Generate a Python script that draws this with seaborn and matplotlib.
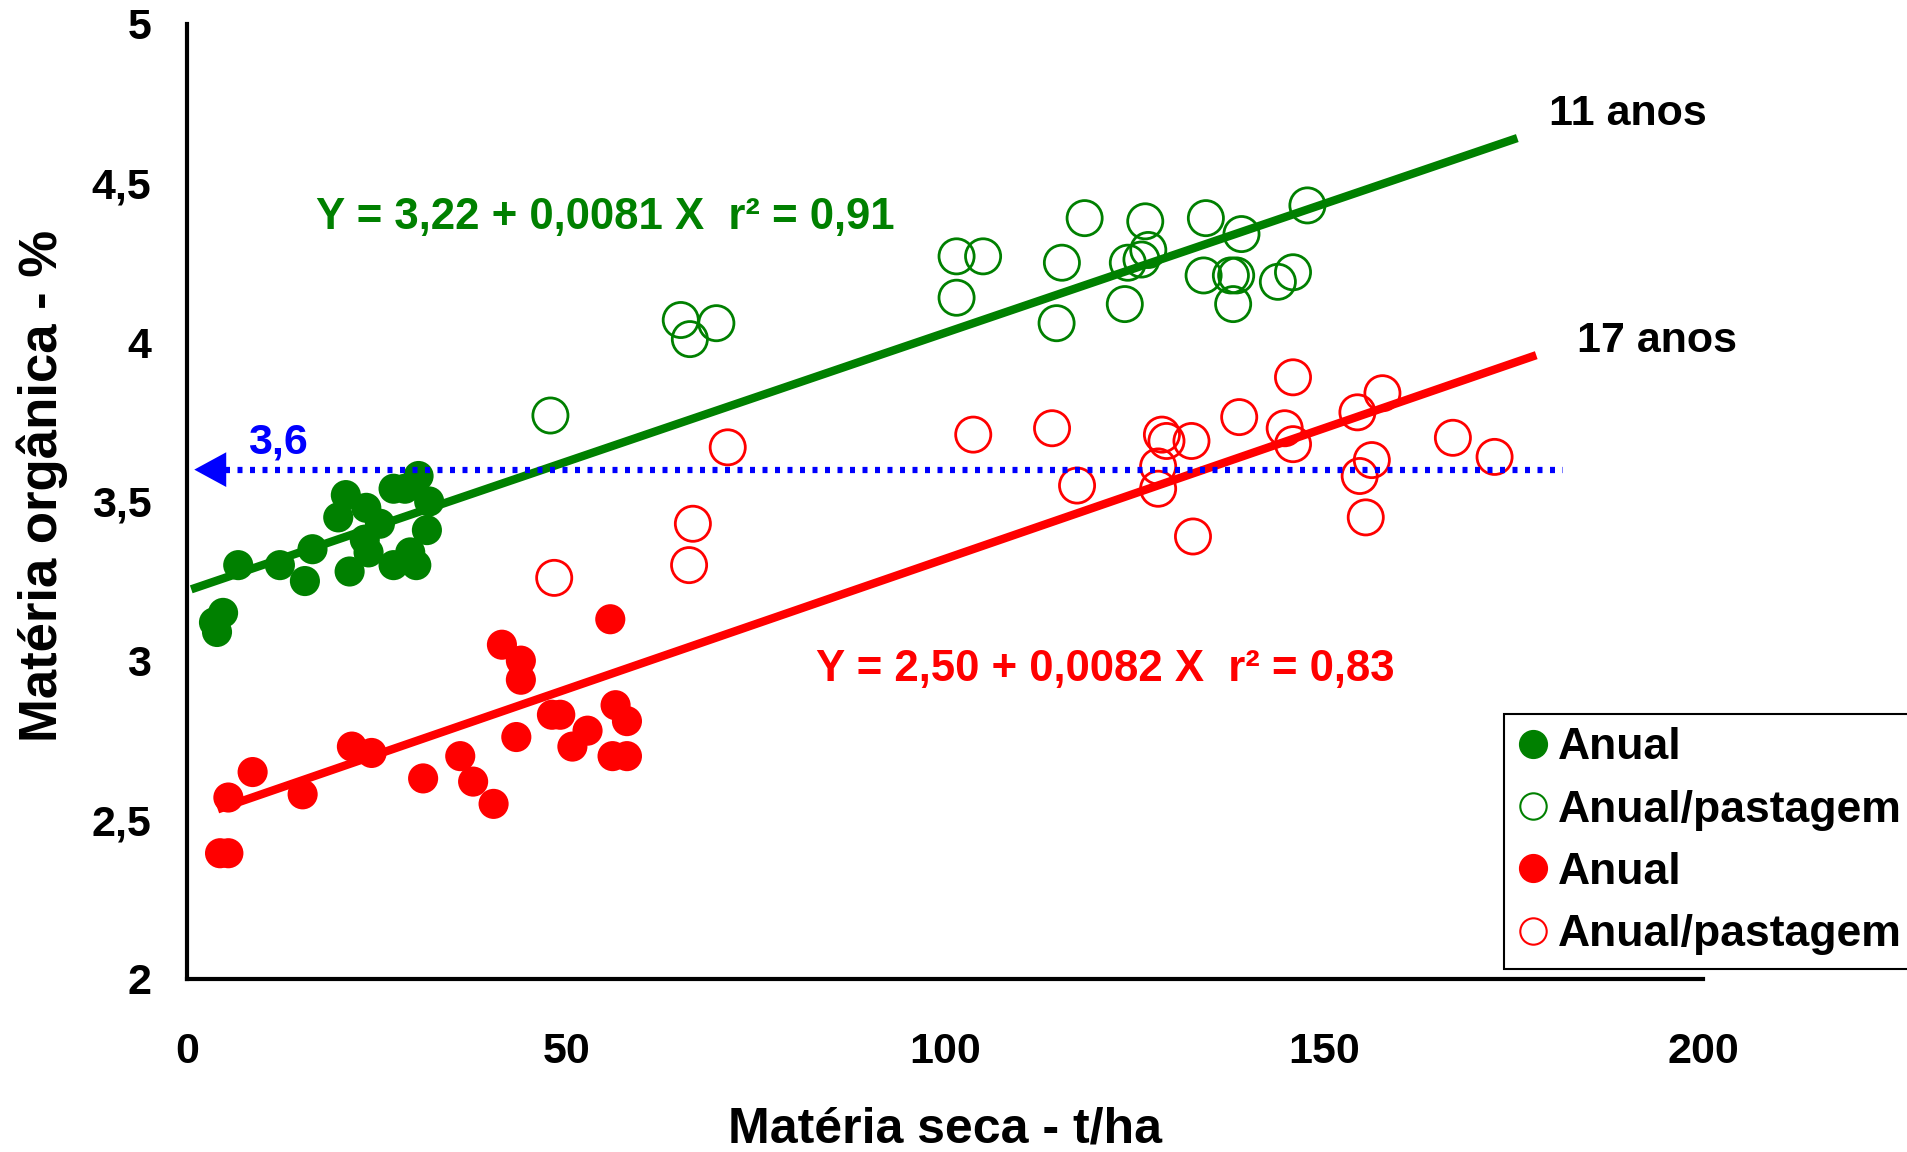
import numpy as np
import pandas as pd
import matplotlib
matplotlib.use("Agg")
import matplotlib.pyplot as plt
from matplotlib.lines import Line2D
from matplotlib.ticker import FixedLocator, FuncFormatter
import seaborn as sns

# ---- 11 anos: lavoura anual (cheio) ----
anual11_x = [3.5, 4.7, 3.9, 6.7, 12.2, 16.5, 15.5, 20.9, 19.9, 23.6, 25.4,
             23.9, 21.4, 23.4, 27.2, 28.7, 30.5, 31.9, 31.6, 27.2, 30.2, 29.4]
anual11_y = [3.12, 3.15, 3.09, 3.30, 3.30, 3.35, 3.25, 3.52, 3.45, 3.48, 3.43,
             3.34, 3.28, 3.38, 3.54, 3.54, 3.58, 3.50, 3.41, 3.30, 3.30, 3.34]

# ---- 11 anos: anual/pastagem (vazio) ----
past11_x = [47.9, 65.1, 66.3, 69.8, 101.5, 105.0, 101.5, 114.7, 115.4, 118.4,
            123.7, 124.1, 125.9, 126.4, 126.8, 134.4, 134.1, 139.1, 137.7,
            138.4, 138.0, 143.9, 145.9, 147.8]
past11_y = [3.77, 4.07, 4.01, 4.06, 4.27, 4.27, 4.14, 4.06, 4.25, 4.39,
            4.12, 4.25, 4.26, 4.38, 4.29, 4.39, 4.21, 4.34, 4.21,
            4.21, 4.12, 4.19, 4.22, 4.43]

# ---- 17 anos: lavoura anual (cheio) ----
anual17_x = [4.3, 5.4, 5.4, 8.6, 15.2, 21.7, 24.3, 31.1, 36.0, 37.7, 40.4, 41.5,
             44.0, 44.0, 43.4, 48.1, 49.2, 50.8, 52.8, 55.8, 56.5, 58.0, 56.1, 58.0]
anual17_y = [2.395, 2.395, 2.57, 2.65, 2.58, 2.73, 2.71, 2.63, 2.70, 2.62, 2.55, 3.05,
             3.00, 2.94, 2.76, 2.83, 2.83, 2.73, 2.78, 3.13, 2.86, 2.81, 2.70, 2.70]

# ---- 17 anos: anual/pastagem (vazio) ----
past17_x = [48.4, 66.2, 66.7, 71.3, 103.7, 114.1, 117.4, 128.6, 129.2, 132.5,
            128.1, 128.1, 132.7, 138.8, 145.9, 144.8, 145.9, 154.4, 157.7,
            156.3, 154.7, 155.5, 167.0, 172.5]
past17_y = [3.26, 3.30, 3.43, 3.67, 3.71, 3.73, 3.55, 3.71, 3.69, 3.69,
            3.61, 3.54, 3.39, 3.765, 3.89, 3.73, 3.68, 3.78, 3.84,
            3.63, 3.58, 3.45, 3.70, 3.64]

# regressões ajustadas (intercepto, inclinação, r², intervalo de X)
reg11 = dict(a=3.22, b=0.0081, r2=0.91, xmin=0.5, xmax=175.5)
reg17 = dict(a=2.50, b=0.0082, r2=0.83, xmin=4.0, xmax=178.0)

# nível de referência de MO
ref_level = 3.6
ref_x = [0.9, 181.5]

x_ticks = [0, 50, 100, 150, 200]
y_ticks = [2, 2.5, 3, 3.5, 4, 4.5, 5]
legend_labels = ["Anual", "Anual/pastagem", "Anual", "Anual/pastagem"]

GREEN = "#008000"
RED = "#ff0000"
BLUE = "#0000ff"

sns.set_theme(style="white")
plt.rcParams["font.family"] = ["Liberation Sans", "DejaVu Sans"]
plt.rcParams["font.weight"] = "bold"
plt.rcParams["axes.labelweight"] = "bold"
plt.rcParams["text.color"] = "black"

fig = plt.figure(figsize=(19.07, 11.52), dpi=100)
ax = fig.add_axes([0.0983, 0.1502, 0.7947, 0.8290])


def dec(v):
    s = f"{v:g}"
    return s.replace(".", ",")


# pontos
sns.scatterplot(x=anual11_x, y=anual11_y, ax=ax, s=470, color=GREEN,
                edgecolor="none", linewidth=0, zorder=2)
sns.scatterplot(x=past11_x, y=past11_y, ax=ax, s=640, facecolor="none",
                edgecolor=GREEN, linewidth=2.0, zorder=2)
sns.scatterplot(x=anual17_x, y=anual17_y, ax=ax, s=470, color=RED,
                edgecolor="none", linewidth=0, zorder=2)
sns.scatterplot(x=past17_x, y=past17_y, ax=ax, s=640, facecolor="none",
                edgecolor=RED, linewidth=2.0, zorder=2)

# retas de regressão
for reg, col in [(reg11, GREEN), (reg17, RED)]:
    xs = np.array([reg["xmin"], reg["xmax"]])
    line_df = pd.DataFrame({"x": xs, "y": reg["a"] + reg["b"] * xs})
    sns.lineplot(data=line_df, x="x", y="y", ax=ax, color=col, lw=6,
                 zorder=3, solid_capstyle="butt")

# linha de referência pontilhada com seta
ax.plot([ref_x[0] + 4.0, ref_x[1]], [ref_level, ref_level], color=BLUE, lw=4.5,
        ls=(0, (0.8, 1.2)), dash_capstyle="butt", zorder=4)
ax.annotate("", xy=(ref_x[0], ref_level), xytext=(ref_x[0] + 4.0, ref_level),
            arrowprops=dict(arrowstyle="-|>,head_length=2.3,head_width=1.25",
                            mutation_scale=10, color=BLUE, lw=0,
                            shrinkA=0, shrinkB=0),
            zorder=4)
ax.text(12.0, 3.65, dec(ref_level), color=BLUE, fontsize=31,
        fontweight="bold", ha="center", va="baseline")

# equações
for reg, col, pos in [(reg11, GREEN, (55.2, 4.357)), (reg17, RED, (121.1, 2.936))]:
    txt = (f"Y = {reg['a']:.2f} + {reg['b']:.4f} X  r\u00b2 = {reg['r2']:.2f}"
           ).replace(".", ",")
    ax.text(pos[0], pos[1], txt, color=col, fontsize=31.5, fontweight="bold",
            ha="center", va="baseline")

ax.text(190.1, 4.683, "11 anos", fontsize=31, fontweight="bold",
        ha="center", va="baseline", color="black")
ax.text(194.0, 3.968, "17 anos", fontsize=31, fontweight="bold",
        ha="center", va="baseline", color="black")

# eixos
ax.set_xlim(0, 200)
ax.set_ylim(2, 5)
ax.xaxis.set_major_locator(FixedLocator(x_ticks))
ax.yaxis.set_major_locator(FixedLocator(y_ticks))
ax.xaxis.set_major_formatter(FuncFormatter(lambda v, p: dec(v)))
ax.yaxis.set_major_formatter(FuncFormatter(lambda v, p: dec(v)))
for side in ["top", "right"]:
    ax.spines[side].set_visible(False)
for side in ["left", "bottom"]:
    ax.spines[side].set_color("black")
    ax.spines[side].set_linewidth(3)
ax.tick_params(axis="both", which="major", direction="out", length=10,
               width=3, color="black", labelsize=31, labelcolor="black")
ax.tick_params(axis="x", pad=28)
ax.tick_params(axis="y", pad=16)
for lab in ax.get_xticklabels() + ax.get_yticklabels():
    lab.set_fontweight("bold")

ax.set_xlabel("Matéria seca - t/ha", fontsize=36, fontweight="bold", color="black")
ax.set_ylabel("Matéria orgânica - %", fontsize=38, fontweight="bold", color="black")
ax.xaxis.label.set_va("baseline")
ax.xaxis.set_label_coords(0.5, -0.171)
ax.yaxis.label.set_va("baseline")
ax.yaxis.set_label_coords(-0.0861, 0.516)

# legenda
handles = [
    Line2D([], [], ls="none", marker="o", markersize=20, markerfacecolor=GREEN,
           markeredgecolor=GREEN),
    Line2D([], [], ls="none", marker="o", markersize=19, markerfacecolor="none",
           markeredgecolor=GREEN, markeredgewidth=1.5),
    Line2D([], [], ls="none", marker="o", markersize=20, markerfacecolor=RED,
           markeredgecolor=RED),
    Line2D([], [], ls="none", marker="o", markersize=19, markerfacecolor="none",
           markeredgecolor=RED, markeredgewidth=1.5),
]
leg = ax.legend(handles, legend_labels, loc="upper left",
                bbox_to_anchor=(1504 / 1907, 1 - 714 / 1152),
                bbox_transform=fig.transFigure, frameon=True, fancybox=False,
                edgecolor="black", framealpha=1, labelcolor="black",
                prop=dict(weight="bold", size=32),
                borderpad=0.3, handlelength=0.7, handletextpad=0.21,
                labelspacing=0.48, borderaxespad=0)
leg.get_frame().set_linewidth(1.5)

fig.savefig("out.png", dpi=100)
